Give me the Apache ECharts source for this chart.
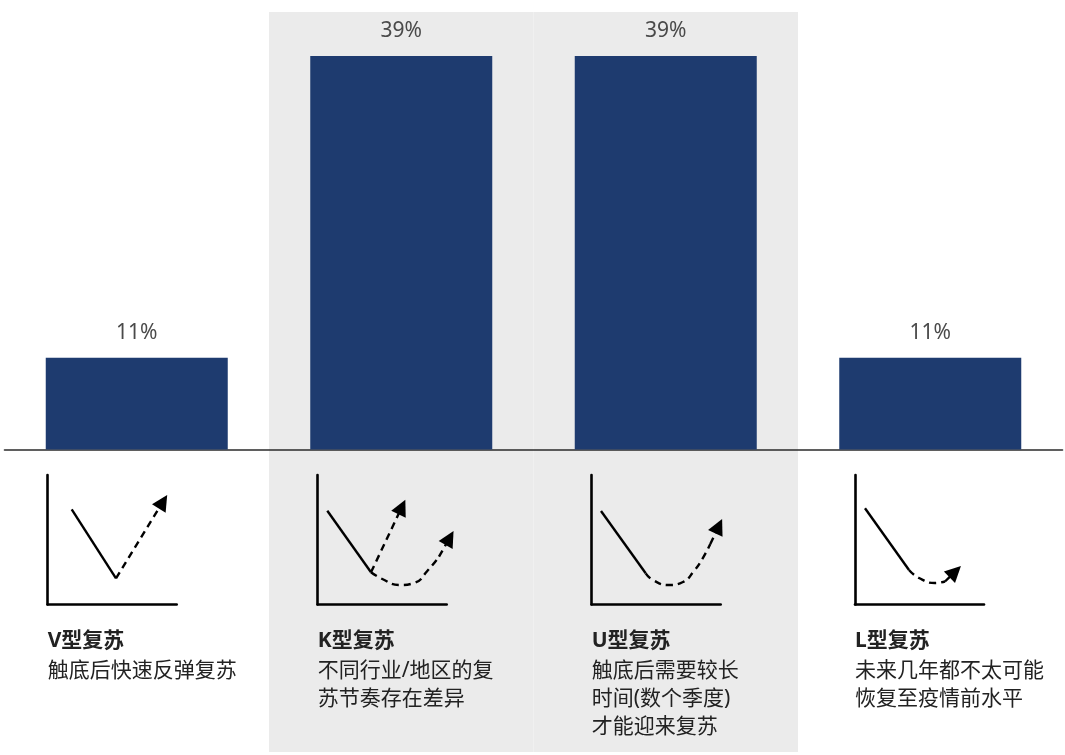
<!DOCTYPE html>
<html>
<head>
<meta charset="utf-8">
<script src="https://cdn.jsdelivr.net/npm/echarts@6/dist/echarts.min.js"></script>
<style>
    html, body { margin: 0; padding: 0; background: #fff; }
    #chart { width: 1065px; height: 755px; }
</style>
</head>
<body>
<div id="chart"></div>
<script>
// 数据
const categories = ['V型复苏', 'K型复苏', 'U型复苏', 'L型复苏'];
const shares = [11, 39, 39, 11];
const bandFlags = [0, 1, 1, 0]; // 灰色背景所在的类别
const descriptions = [
    '触底后快速反弹复苏',
    '不同行业/地区的复\n苏节奏存在差异',
    '触底后需要较长\n时间(数个季度)\n才能迎来复苏',
    '未来几年都不太可能\n恢复至疫情前水平'
];

// 示意小图（每个小图坐标 0~129）
const declines = [
    [[24, 95.2], [68.3, 26.2]],
    [[9.6, 93.8], [53.3, 32.2]],
    [[9.3, 93.5], [54, 31.2]],
    [[10, 96.2], [54, 34.5]]
];
const rebounds = [
    [],
    [[53.3, 32.2], [64.6, 25.5], [81.3, 19.5], [97.3, 21.8], [109.6, 33.5], [121.3, 47.8]],
    [[54, 31.2], [61.6, 24.2], [76.6, 19.5], [91.3, 22.5], [102.3, 33.5], [111, 46.2], [118.6, 60.5]],
    [[54, 34.5], [64, 26.5], [80, 21.5], [90, 23]]
];
const arrows = [
    [[[68.3, 26.2], [115.3, 102.8]]],
    [[[53.3, 32.2], [84.2, 97.5]], [[121.3, 47.8], [131.9, 66.5]]],
    [[[118.6, 60.5], [127, 78.3]]],
    [[[90, 23], [100.2, 32.9]]]
];

// 版式
const iconLeft = [47.7, 317.7, 591.7, 855];
const barColor = '#1e3b6f';
const dash = [7, 5];
const fontStack = "'Noto Sans', 'Noto Sans CJK SC'";

const chart = echarts.init(document.getElementById('chart'));

const grids = [
    { left: 4.5, width: 1058, top: 12, height: 740 },       // 背景
    { left: 4.5, width: 1058, top: 45.2, height: 404.3 }    // 柱
];
const xAxes = [
    { gridIndex: 0, type: 'category', data: categories, show: false },
    {
        gridIndex: 1, type: 'category', data: categories, z: 5,
        axisLine: { show: true, lineStyle: { color: '#2b2b2b', width: 1.6 } },
        axisTick: { show: false }, axisLabel: { show: false }
    }
];
const yAxes = [
    { gridIndex: 0, type: 'value', min: 0, max: 1, show: false },
    { gridIndex: 1, type: 'value', min: 2.5, max: 40, show: false }
];
const series = [
    {
        type: 'bar', xAxisIndex: 0, yAxisIndex: 0, data: bandFlags, z: 1,
        barWidth: '100%', itemStyle: { color: '#ebebeb' }, silent: true
    },
    {
        type: 'bar', xAxisIndex: 1, yAxisIndex: 1, data: shares, z: 6,
        barWidth: 182, itemStyle: { color: barColor },
        label: {
            show: true, position: 'top', distance: 14, formatter: '{c}%',
            fontSize: 21, color: '#4a4a4a', fontFamily: 'Noto Sans'
        }
    }
];

const axisStyle = { show: true, onZero: false, lineStyle: { color: '#000', width: 2.6 } };
categories.forEach((c, i) => {
    const g = grids.length;
    grids.push({ left: iconLeft[i], top: 475, width: 129, height: 129.5 });
    xAxes.push({
        gridIndex: g, type: 'value', min: 0, max: 129, z: 8,
        axisLine: axisStyle, axisTick: { show: false }, axisLabel: { show: false }, splitLine: { show: false }
    });
    yAxes.push({
        gridIndex: g, type: 'value', min: 0, max: 129.5, z: 8,
        axisLine: axisStyle, axisTick: { show: false }, axisLabel: { show: false }, splitLine: { show: false }
    });
    series.push({
        type: 'line', xAxisIndex: g, yAxisIndex: g, data: declines[i], z: 10,
        showSymbol: false, silent: true, clip: false,
        lineStyle: { color: '#000', width: 2.4 }
    });
    if (rebounds[i].length) {
        series.push({
            type: 'line', xAxisIndex: g, yAxisIndex: g, data: rebounds[i], z: 10,
            smooth: true, showSymbol: false, silent: true, clip: false,
            lineStyle: { color: '#000', width: 2.4, type: dash }
        });
    }
    series.push({
        type: 'lines', coordinateSystem: 'cartesian2d', xAxisIndex: g, yAxisIndex: g, z: 10,
        data: arrows[i].map(a => ({ coords: a })),
        symbol: ['none', 'triangle'], symbolSize: 16, silent: true, clip: false,
        lineStyle: { color: '#000', width: 2.4, type: dash, opacity: 1, curveness: 0 }
    });
});

const graphic = [];
categories.forEach((c, i) => {
    graphic.push({
        type: 'text', x: iconLeft[i], y: 641.5, z: 100,
        style: {
            text: c, fill: '#222', fontSize: 21, fontWeight: 'bold',
            fontFamily: fontStack, verticalAlign: 'middle'
        }
    });
    graphic.push({
        type: 'text', x: iconLeft[i], y: 656.7, z: 100,
        style: {
            text: descriptions[i], fill: '#222', fontSize: 21, lineHeight: 28,
            fontFamily: fontStack, verticalAlign: 'top'
        }
    });
});

chart.setOption({
    animation: false,
    backgroundColor: '#fff',
    grid: grids,
    xAxis: xAxes,
    yAxis: yAxes,
    series: series,
    graphic: graphic
});
</script>
</body>
</html>
